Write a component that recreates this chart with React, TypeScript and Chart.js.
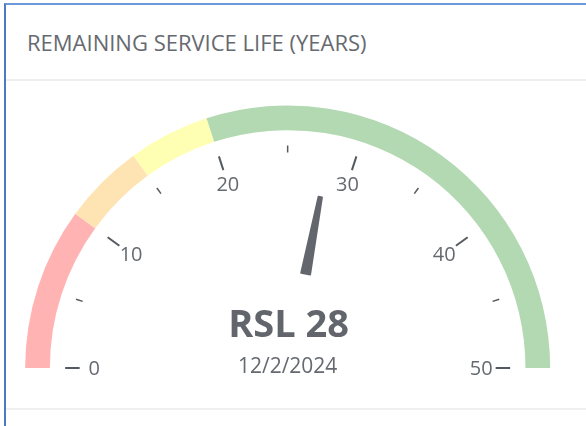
import React, { useEffect, useRef } from "react";
import { Chart, registerables } from "chart.js";

Chart.register(...registerables);

const TITLE = "REMAINING SERVICE LIFE (YEARS)";
const bandNames = ["Critical", "Poor", "Fair", "Good"];
const bandValues = [10, 5, 5, 30];
const bandColors = ["#ffb3b3", "#ffe4b3", "#ffffb3", "#b3d9b3"];
const gaugeMin = 0;
const gaugeMax = 50;
const majorTicks = [0, 10, 20, 30, 40, 50];
const minorTicks = [5, 15, 25, 35, 45];
const rslValue = 28;
const rslLabel = "RSL 28";
const dateLabel = "12/2/2024";

const gaugePlugin = {
  id: "gaugeDecor",
  afterDatasetsDraw(chart: any) {
    const meta = chart.getDatasetMeta(0);
    const arcs = meta.data;
    if (!arcs.length) return;
    const first = arcs[0];
    const last = arcs[arcs.length - 1];
    const cx = first.x;
    const cy = first.y;
    const R = first.outerRadius;
    const a0 = first.startAngle;
    const a1 = last.endAngle;
    const ang = (v: number) => a0 + ((v - gaugeMin) / (gaugeMax - gaugeMin)) * (a1 - a0);
    const ctx = chart.ctx;
    ctx.save();
    // ticks
    ctx.strokeStyle = "#555a60";
    ctx.lineCap = "butt";
    const tick = (v: number, r1: number, r2: number, w: number) => {
      const a = ang(v);
      ctx.lineWidth = w;
      ctx.beginPath();
      ctx.moveTo(cx + Math.cos(a) * r1, cy + Math.sin(a) * r1);
      ctx.lineTo(cx + Math.cos(a) * r2, cy + Math.sin(a) * r2);
      ctx.stroke();
    };
    majorTicks.forEach((v) => tick(v, R - 54.5, R - 40, 2));
    minorTicks.forEach((v) => tick(v, R - 47, R - 40, 1.5));
    // labels
    ctx.fillStyle = "#666a70";
    ctx.font = "20px 'Open Sans'";
    ctx.textAlign = "center";
    ctx.textBaseline = "middle";
    majorTicks.forEach((v) => {
      const a = ang(v);
      const r = R - 69;
      ctx.fillText(String(v), cx + Math.cos(a) * r, cy + Math.sin(a) * r + 1);
    });
    // needle
    const a = ang(rslValue);
    const ux = Math.cos(a), uy = Math.sin(a);
    const px = -uy, py = ux;
    const rb = 96, rt = 174, wb = 4.5, wt = 1.7;
    ctx.fillStyle = "#63676d";
    ctx.strokeStyle = "#63676d";
    ctx.lineWidth = 2;
    ctx.lineJoin = "round";
    ctx.beginPath();
    ctx.moveTo(cx + ux * rb + px * wb, cy + uy * rb + py * wb);
    ctx.lineTo(cx + ux * rt + px * wt, cy + uy * rt + py * wt);
    ctx.lineTo(cx + ux * rt - px * wt, cy + uy * rt - py * wt);
    ctx.lineTo(cx + ux * rb - px * wb, cy + uy * rb - py * wb);
    ctx.closePath();
    ctx.fill();
    ctx.stroke();
    // center text
    ctx.textBaseline = "alphabetic";
    ctx.fillStyle = "#62666c";
    ctx.font = "bold 38px 'Open Sans'";
    ctx.fillText(rslLabel, cx + 1, cy - 31);
    ctx.fillStyle = "#666a70";
    ctx.font = "21px 'Open Sans'";
    ctx.fillText(dateLabel, cx, cy + 5);
    ctx.restore();
  },
};

export default function App() {
  const ref = useRef<HTMLCanvasElement>(null);
  useEffect(() => {
    if (!ref.current) return;
    const chart = new Chart(ref.current, {
      type: "doughnut",
      data: {
        labels: bandNames,
        datasets: [
          {
            data: bandValues,
            backgroundColor: bandColors,
            borderWidth: 0,
          },
        ],
      },
      options: {
        responsive: false,
        animation: false,
        rotation: -90,
        circumference: 180,
        cutout: "90.6%",
        layout: { padding: { left: 25, top: 105.5, right: 35.7, bottom: 58 } },
        plugins: { legend: { display: false }, tooltip: { enabled: false } },
        events: [],
      },
      plugins: [gaugePlugin],
    });
    return () => chart.destroy();
  }, []);

  return (
    <div
      style={{
        position: "fixed",
        left: 0,
        top: 0,
        width: 586,
        height: 426,
        background: "#fff",
        overflow: "hidden",
      }}
    >
      <div
        style={{
          position: "absolute",
          left: 4,
          top: 3,
          right: 0,
          bottom: 0,
          borderTop: "2px solid #6a98d8",
          borderLeft: "2px solid #4a7bbf",
        }}
      />
      <div
        style={{
          position: "absolute",
          left: 27,
          top: 30.5,
          fontFamily: "'Open Sans', sans-serif",
          fontSize: 22,
          lineHeight: "22px",
          color: "#666a70",
          whiteSpace: "nowrap",
        }}
      >
        {TITLE}
      </div>
      <div style={{ position: "absolute", left: 6, right: 0, top: 79, height: 2, background: "#efefef" }} />
      <div style={{ position: "absolute", left: 6, right: 0, top: 408, height: 2, background: "#efefef" }} />
      <canvas
        ref={ref}
        width={586}
        height={426}
        style={{ position: "absolute", left: 0, top: 0, width: 586, height: 426 }}
      />
    </div>
  );
}
